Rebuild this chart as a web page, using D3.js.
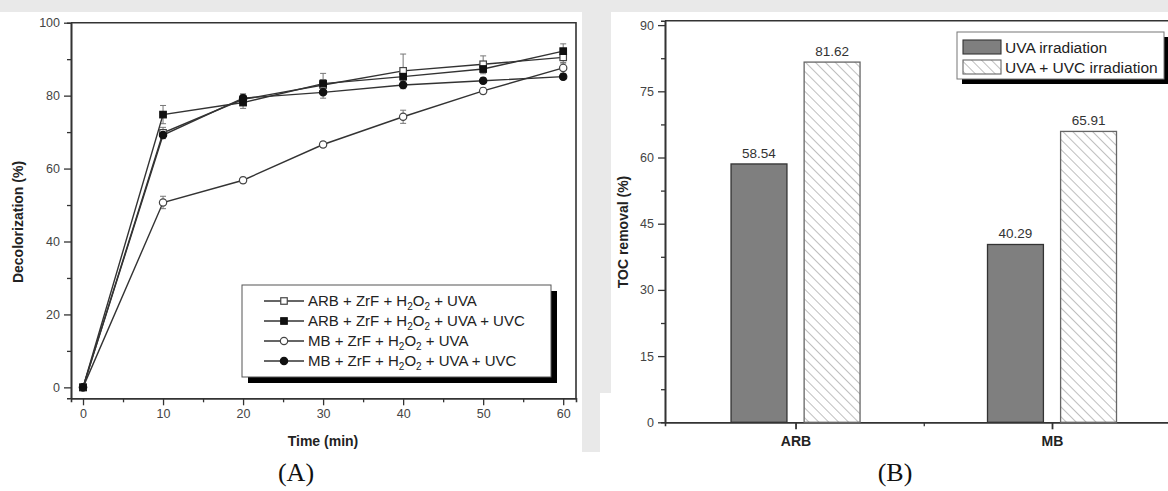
<!DOCTYPE html>
<html>
<head>
<meta charset="utf-8">
<script src="https://cdn.jsdelivr.net/npm/d3@7"></script>
<style>
  body { margin: 0; background: #fff; }
  svg { display: block; }
  text { font-family: Arial, "Liberation Sans", Helvetica, sans-serif; }
  text.caption { font-family: "Liberation Serif", "Times New Roman", serif; }
</style>
</head>
<body>
<svg id="fig" width="1168" height="491"></svg>
<script>
// ---- Panel A: decolorization vs. time ----
const times = [0, 10, 20, 30, 40, 50, 60];
const arbUva       = [0, 69.8, 79.0, 82.9, 86.8, 88.6, 90.5];
const arbUvaErr    = [0, 1.5, 1.5, 1.5, 4.6, 2.3, 1.8];
const arbUvaUvc    = [0, 74.8, 78.1, 83.3, 85.2, 87.3, 92.2];
const arbUvaUvcErr = [0, 2.5, 1.6, 2.8, 1.2, 1.3, 2.0];
const mbUva        = [0, 50.7, 56.8, 66.6, 74.2, 81.3, 87.6];
const mbUvaErr     = [0, 1.7, 0.8, 0.8, 1.8, 0.8, 1.5];
const mbUvaUvc     = [0, 69.2, 79.3, 80.9, 82.9, 84.1, 85.2];
const mbUvaUvcErr  = [0, 1.0, 1.0, 1.6, 1.0, 0.8, 0.8];
const timeTicks  = [0, 10, 20, 30, 40, 50, 60];
const timeMinor  = [5, 15, 25, 35, 45, 55];
const decolTicks = [0, 20, 40, 60, 80, 100];
const decolMinor = [10, 30, 50, 70, 90];

// ---- Panel B: TOC removal ----
const samples   = ["ARB", "MB"];
const tocUva    = [58.54, 40.29];
const tocUvaUvc = [81.62, 65.91];
const tocTicks  = [0, 15, 30, 45, 60, 75, 90];
const tocMinor  = [7.5, 22.5, 37.5, 52.5, 67.5, 82.5];

const svg = d3.select("#fig");
const ink = "#333";

// faint background band and divider between the two panels
svg.append("rect").attr("x", 0).attr("y", 0).attr("width", 1168).attr("height", 12).attr("fill", "#e9e9e9");
svg.append("rect").attr("x", 582).attr("y", 0).attr("width", 18).attr("height", 452).attr("fill", "#e9e9e9");
svg.append("rect").attr("x", 600).attr("y", 0).attr("width", 11).attr("height", 393).attr("fill", "#e9e9e9");

// ================= Panel A =================
const gA = svg.append("g");
const xA = d3.scaleLinear().domain([-1.5, 61.6]).range([71, 576]);
const yA = d3.scaleLinear().domain([-3, 100]).range([398.3, 22.7]);

function styleAxis(g) {
  g.selectAll("path.domain").attr("stroke", ink).attr("stroke-width", 1.6);
  g.selectAll(".tick line").attr("stroke", ink).attr("stroke-width", 1.3);
  g.selectAll(".tick text").attr("fill", "#444").attr("font-size", 12.5)
    .style("font-family", "Arial, 'Liberation Sans', sans-serif");
}

// minor ticks
gA.append("g").attr("transform", "translate(0,398.3)")
  .call(d3.axisBottom(xA).tickValues(timeMinor).tickSize(4).tickFormat(""))
  .call(styleAxis);
gA.append("g").attr("transform", "translate(71,0)")
  .call(d3.axisLeft(yA).tickValues(decolMinor).tickSize(4).tickFormat(""))
  .call(styleAxis);
// major ticks
gA.append("g").attr("transform", "translate(0,398.3)")
  .call(d3.axisBottom(xA).tickValues(timeTicks).tickSize(7).tickPadding(4).tickSizeOuter(0))
  .call(styleAxis);
gA.append("g").attr("transform", "translate(71,0)")
  .call(d3.axisLeft(yA).tickValues(decolTicks).tickSize(7).tickPadding(4).tickSizeOuter(0))
  .call(styleAxis);
// frame top and right
gA.append("path")
  .attr("d", `M${xA.range()[0]},${yA.range()[1]}H${xA.range()[1]}V${yA.range()[0]}`)
  .attr("fill", "none").attr("stroke", ink).attr("stroke-width", 1.6);

gA.append("text").attr("x", 323).attr("y", 446).attr("text-anchor", "middle")
  .attr("font-size", 14).attr("font-weight", "bold").attr("fill", "#222").text("Time (min)");
gA.append("text").attr("transform", "translate(23,222) rotate(-90)").attr("text-anchor", "middle")
  .attr("font-size", 14).attr("font-weight", "bold").attr("fill", "#222").text("Decolorization (%)");

const seriesA = [
  { vals: arbUva,    err: arbUvaErr,    shape: "square", filled: false },
  { vals: arbUvaUvc, err: arbUvaUvcErr, shape: "square", filled: true },
  { vals: mbUva,     err: mbUvaErr,     shape: "circle", filled: false },
  { vals: mbUvaUvc,  err: mbUvaUvcErr,  shape: "circle", filled: true }
];
const legendNames = [
  ["ARB + ZrF + H", "O", " + UVA"],
  ["ARB + ZrF + H", "O", " + UVA + UVC"],
  ["MB + ZrF + H", "O", " + UVA"],
  ["MB + ZrF + H", "O", " + UVA + UVC"]
];

function marker(sel, s, size) {
  if (s.shape === "square") {
    sel.append("rect").attr("x", -size / 2).attr("y", -size / 2)
      .attr("width", size).attr("height", size);
  } else {
    sel.append("circle").attr("r", size / 2 + 0.4);
  }
  sel.selectAll("rect,circle")
    .attr("fill", s.filled ? "#111" : "#fff")
    .attr("stroke", s.filled ? "#111" : "#444")
    .attr("stroke-width", 1.2);
}

const line = d3.line().x((d, i) => xA(times[i])).y(d => yA(d));

// error bars first so markers sit above them
seriesA.forEach(s => {
  const eb = gA.append("g").attr("stroke", "#777").attr("stroke-width", 1);
  s.vals.forEach((v, i) => {
    if (!s.err[i]) return;
    const x = xA(times[i]);
    eb.append("line").attr("x1", x).attr("x2", x).attr("y1", yA(v - s.err[i])).attr("y2", yA(v + s.err[i]));
    [v - s.err[i], v + s.err[i]].forEach(e =>
      eb.append("line").attr("x1", x - 3).attr("x2", x + 3).attr("y1", yA(e)).attr("y2", yA(e)));
  });
});
seriesA.forEach(s => {
  gA.append("path").datum(s.vals).attr("d", line)
    .attr("fill", "none").attr("stroke", "#333").attr("stroke-width", 1.4);
});
seriesA.forEach(s => {
  s.vals.forEach((v, i) => {
    const m = gA.append("g").attr("transform", `translate(${xA(times[i])},${yA(v)})`);
    marker(m, s, 6.5);
  });
});

// legend A
const legA = gA.append("g");
legA.append("rect").attr("x", 248).attr("y", 291).attr("width", 309).attr("height", 92).attr("fill", "#000");
legA.append("rect").attr("x", 242).attr("y", 285).attr("width", 309).attr("height", 92)
  .attr("fill", "#fff").attr("stroke", "#555").attr("stroke-width", 1);
seriesA.forEach((s, i) => {
  const cy = 301 + i * 20;
  legA.append("line").attr("x1", 264).attr("x2", 304).attr("y1", cy).attr("y2", cy)
    .attr("stroke", "#333").attr("stroke-width", 1.4);
  const m = legA.append("g").attr("transform", `translate(284,${cy})`);
  marker(m, s, 6.5);
  const t = legA.append("text").attr("x", 308).attr("y", cy + 5).attr("font-size", 15).attr("fill", "#222");
  const n = legendNames[i];
  t.append("tspan").text(n[0]);
  t.append("tspan").attr("font-size", 10).attr("dy", 4).text("2");
  t.append("tspan").attr("dy", -4).text(n[1]);
  t.append("tspan").attr("font-size", 10).attr("dy", 4).text("2");
  t.append("tspan").attr("dy", -4).text(n[2]);
});

svg.append("text").attr("class", "caption").attr("x", 296).attr("y", 481).attr("text-anchor", "middle")
  .attr("font-size", 26).attr("fill", "#111").text("(A)");

// ================= Panel B =================
const gB = svg.append("g");
const xB = d3.scaleLinear().domain([0.491, 2.51]).range([665, 1182.8]);
const yB = d3.scaleLinear().domain([0, 91]).range([422.3, 20.7]);

const defs = svg.append("defs");
const pat = defs.append("pattern").attr("id", "hatch").attr("patternUnits", "userSpaceOnUse")
  .attr("width", 7).attr("height", 7).attr("patternTransform", "rotate(-45)");
pat.append("rect").attr("width", 7).attr("height", 7).attr("fill", "#fff");
pat.append("line").attr("x1", 0).attr("x2", 0).attr("y1", 0).attr("y2", 7)
  .attr("stroke", "#8a8a8a").attr("stroke-width", 1.1);

gB.append("g").attr("transform", "translate(665,0)")
  .call(d3.axisLeft(yB).tickValues(tocMinor).tickSize(4).tickFormat(""))
  .call(styleAxis);
gB.append("g").attr("transform", "translate(665,0)")
  .call(d3.axisLeft(yB).tickValues(tocTicks).tickSize(7).tickPadding(4).tickSizeOuter(0))
  .call(styleAxis);
gB.append("g").attr("transform", "translate(0,422.3)")
  .call(d3.axisBottom(xB).tickValues([1.5]).tickSize(4).tickFormat(""))
  .call(styleAxis);
const xAxisB = gB.append("g").attr("transform", "translate(0,422.3)")
  .call(d3.axisBottom(xB).tickValues([1, 2]).tickSize(7).tickPadding(7).tickSizeOuter(0)
    .tickFormat((d, i) => samples[i]))
  .call(styleAxis);
xAxisB.selectAll(".tick text").attr("font-size", 14).attr("font-weight", "bold").attr("fill", "#222");
xAxisB.selectAll(".tick line").attr("stroke-width", 1.8);
gB.append("path").attr("d", `M665,${yB.range()[1]}H1168`)
  .attr("fill", "none").attr("stroke", ink).attr("stroke-width", 1.6);

gB.append("text").attr("transform", "translate(628,232) rotate(-90)").attr("text-anchor", "middle")
  .attr("font-size", 14).attr("font-weight", "bold").attr("fill", "#222").text("TOC removal (%)");

const barW = 0.218, barOff = 0.1425;
const groups = [
  { vals: tocUva,    off: -barOff, fill: "#7f7f7f", stroke: "#333" },
  { vals: tocUvaUvc, off:  barOff, fill: "url(#hatch)", stroke: "#666" }
];
groups.forEach(gr => {
  gr.vals.forEach((v, i) => {
    const cx = i + 1 + gr.off;
    gB.append("rect")
      .attr("x", xB(cx - barW / 2)).attr("width", xB(cx + barW / 2) - xB(cx - barW / 2))
      .attr("y", yB(v)).attr("height", yB(0) - yB(v))
      .attr("fill", gr.fill).attr("stroke", gr.stroke).attr("stroke-width", 1.3);
    gB.append("text").attr("x", xB(cx)).attr("y", yB(v) - 6).attr("text-anchor", "middle")
      .attr("font-size", 13.5).attr("fill", "#333").text(v.toFixed(2));
  });
});

// legend B
const legB = gB.append("g");
legB.append("rect").attr("x", 962).attr("y", 37).attr("width", 220).attr("height", 47).attr("fill", "#000");
legB.append("rect").attr("x", 957).attr("y", 32).attr("width", 207).attr("height", 47)
  .attr("fill", "#fff").attr("stroke", "#777").attr("stroke-width", 1);
const legBNames = ["UVA irradiation", "UVA + UVC irradiation"];
groups.forEach((gr, i) => {
  const top = 40 + i * 20;
  legB.append("rect").attr("x", 963).attr("y", top).attr("width", 38).attr("height", 14)
    .attr("fill", gr.fill).attr("stroke", gr.stroke).attr("stroke-width", 1.1);
  legB.append("text").attr("x", 1005).attr("y", top + 12.5).attr("font-size", 15.5)
    .attr("fill", "#222").text(legBNames[i]);
});

svg.append("text").attr("class", "caption").attr("x", 895).attr("y", 481).attr("text-anchor", "middle")
  .attr("font-size", 26).attr("fill", "#111").text("(B)");
</script>
</body>
</html>
